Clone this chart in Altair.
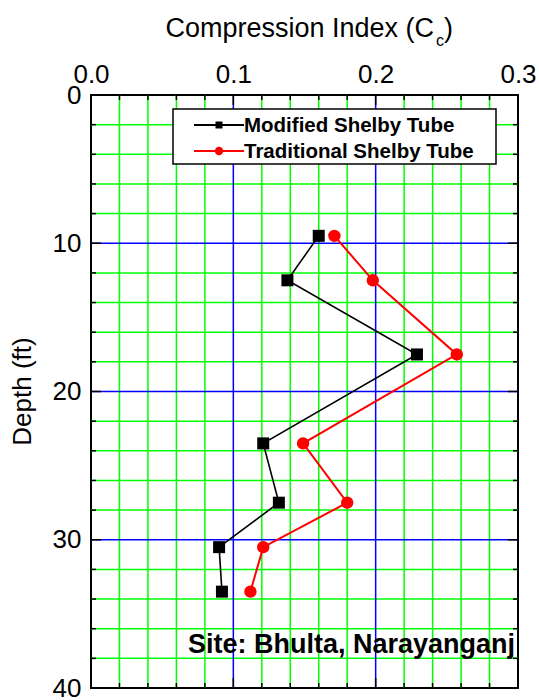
import altair as alt
import pandas as pd

# Compression index profiles at the Bhulta site
depth = [9.5, 12.5, 17.5, 23.5, 27.5, 30.5, 33.5]
cc_modified = [0.160, 0.138, 0.229, 0.121, 0.132, 0.090, 0.092]
cc_traditional = [0.171, 0.198, 0.257, 0.149, 0.180, 0.121, 0.112]
series_names = ["Modified Shelby Tube", "Traditional Shelby Tube"]

# Axis labels and grid positions
x_labels = [0.0, 0.1, 0.2, 0.3]
y_labels = [0, 10, 20, 30, 40]
x_major_grid = [0.1, 0.2]
y_major_grid = [10, 20, 30]
x_minor = [0.02, 0.04, 0.06, 0.08, 0.12, 0.14, 0.16, 0.18, 0.22, 0.24, 0.26, 0.28]
y_minor = [2, 4, 6, 8, 12, 14, 16, 18, 22, 24, 26, 28, 32, 34, 36, 38]

W, H = 427, 593
FONT = "Liberation Sans"

x_scale = alt.Scale(domain=[0, 0.3], nice=False, zero=False)
y_scale = alt.Scale(domain=[0, 40], nice=False, reverse=True)

x_axis = alt.Axis(orient="top", values=x_labels, format=".1f", ticks=False,
                  domain=False, grid=False, title=None, labelFontSize=26,
                  labelFont=FONT, labelColor="black", labelPadding=8,
                  labelFlush=False, labelOverlap=False)
y_axis = alt.Axis(orient="left", values=y_labels, format="d", ticks=False,
                  domain=False, grid=False, title=None, labelFontSize=26,
                  labelFont=FONT, labelColor="black", labelPadding=10,
                  labelFlush=False, labelOverlap=False)


def X(field):
    return alt.X(f"{field}:Q", scale=x_scale, axis=x_axis)


def Y(field):
    return alt.Y(f"{field}:Q", scale=y_scale, axis=y_axis)


def one_row():
    return pd.DataFrame({"k": [0]})


# Grid lines
grid_x_minor = alt.Chart(pd.DataFrame({"v": x_minor})).mark_rule(
    color="#00FF00", strokeWidth=1.5).encode(x=X("v"))
grid_y_minor = alt.Chart(pd.DataFrame({"v": y_minor})).mark_rule(
    color="#00FF00", strokeWidth=1.5).encode(y=Y("v"))
grid_x_major = alt.Chart(pd.DataFrame({"v": x_major_grid})).mark_rule(
    color="#0000FF", strokeWidth=1.5).encode(x=X("v"))
grid_y_major = alt.Chart(pd.DataFrame({"v": y_major_grid})).mark_rule(
    color="#0000FF", strokeWidth=1.5).encode(y=Y("v"))


# Inward tick marks on all four sides
def ticks_x(values, length):
    df = pd.DataFrame({"v": values})
    top = alt.Chart(df).mark_rule(color="black", strokeWidth=1.5).encode(
        x=X("v"), y=alt.value(0), y2=alt.value(length))
    bottom = alt.Chart(df).mark_rule(color="black", strokeWidth=1.5).encode(
        x=X("v"), y=alt.value(H), y2=alt.value(H - length))
    return [top, bottom]


def ticks_y(values, length):
    df = pd.DataFrame({"v": values})
    left = alt.Chart(df).mark_rule(color="black", strokeWidth=1.5).encode(
        y=Y("v"), x=alt.value(0), x2=alt.value(length))
    right = alt.Chart(df).mark_rule(color="black", strokeWidth=1.5).encode(
        y=Y("v"), x=alt.value(W), x2=alt.value(W - length))
    return [left, right]


tick_layers = (ticks_x(x_minor, 5) + ticks_x(x_labels, 10)
               + ticks_y(y_minor, 5) + ticks_y(y_labels, 10))

# Data series
df_mod = pd.DataFrame({"depth": depth, "cc": cc_modified})
df_trad = pd.DataFrame({"depth": depth, "cc": cc_traditional})

line_mod = alt.Chart(df_mod).mark_line(color="black", strokeWidth=1.6).encode(
    x=X("cc"), y=Y("depth"), order="depth:Q")
pts_mod = alt.Chart(df_mod).mark_point(
    shape="square", filled=True, size=144, color="black", opacity=1).encode(
    x=X("cc"), y=Y("depth"))
line_trad = alt.Chart(df_trad).mark_line(color="#FF0000", strokeWidth=2).encode(
    x=X("cc"), y=Y("depth"), order="depth:Q")
pts_trad = alt.Chart(df_trad).mark_point(
    shape="circle", filled=True, size=154, color="#FF0000", opacity=1).encode(
    x=X("cc"), y=Y("depth"))

# Legend box
legend_box = alt.Chart(one_row()).mark_rect(
    fill="white", stroke="black", strokeWidth=1.5).encode(
    x=alt.value(82), x2=alt.value(405), y=alt.value(14), y2=alt.value(69))


def legend_row(name, color, shape, size, ypos):
    df = pd.DataFrame({"name": [name]})
    seg = alt.Chart(df).mark_rule(color=color, strokeWidth=2).encode(
        x=alt.value(103), x2=alt.value(153), y=alt.value(ypos))
    sym = alt.Chart(df).mark_point(
        shape=shape, filled=True, size=size, color=color, opacity=1).encode(
        x=alt.value(128), y=alt.value(ypos))
    txt = alt.Chart(df).mark_text(
        align="left", baseline="middle", font=FONT, fontSize=20.5,
        fontWeight="bold", color="black").encode(
        x=alt.value(153), y=alt.value(ypos + 1), text="name:N")
    return [seg, sym, txt]


legend_layers = (legend_row(series_names[0], "black", "square", 49, 30)
                 + legend_row(series_names[1], "#FF0000", "circle", 70, 56))

# Titles and site annotation
title_main = alt.Chart(one_row()).mark_text(
    text="Compression Index (C", align="right", baseline="alphabetic",
    font=FONT, fontSize=27, color="black").encode(
    x=alt.value(343), y=alt.value(-58))
title_sub = alt.Chart(one_row()).mark_text(
    text="c", align="left", baseline="alphabetic",
    font=FONT, fontSize=16, color="black").encode(
    x=alt.value(345), y=alt.value(-49))
title_close = alt.Chart(one_row()).mark_text(
    text=")", align="left", baseline="alphabetic",
    font=FONT, fontSize=27, color="black").encode(
    x=alt.value(353), y=alt.value(-58))
y_title = alt.Chart(one_row()).mark_text(
    text="Depth (ft)", align="center", baseline="middle", angle=270,
    font=FONT, fontSize=26, color="black").encode(
    x=alt.value(-68), y=alt.value(H / 2))
site = alt.Chart(one_row()).mark_text(
    text="Site: Bhulta, Narayanganj", align="right", baseline="alphabetic",
    font=FONT, fontSize=27, fontWeight="bold", color="black").encode(
    x=alt.value(424), y=alt.value(558))

layers = ([grid_x_minor, grid_y_minor, grid_x_major, grid_y_major]
          + tick_layers + [legend_box] + legend_layers
          + [line_mod, line_trad, pts_mod, pts_trad]
          + [site, title_main, title_sub, title_close, y_title])

chart = alt.layer(*layers).properties(
    width=W, height=H,
    autosize=alt.AutoSizeParams(type="none"),
    padding={"left": 91, "top": 95, "right": 21, "bottom": 12},
    background="white",
).configure_view(stroke="black", strokeWidth=2)

chart.save("out.html", embed_options={"renderer": "svg", "actions": False})
